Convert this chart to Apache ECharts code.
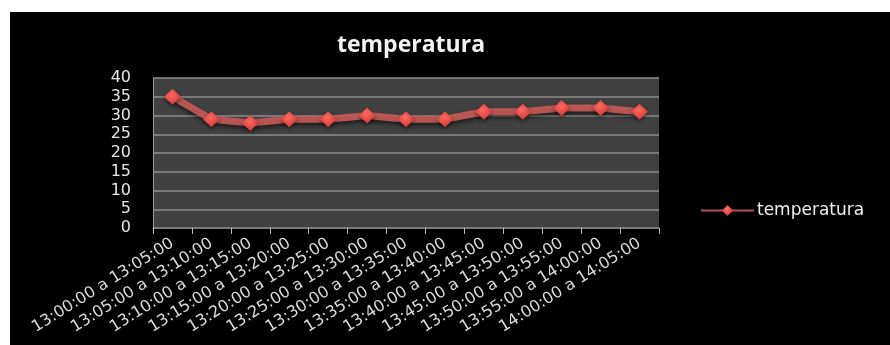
<!DOCTYPE html>
<html>
<head>
<meta charset="utf-8">
<script src="https://cdn.jsdelivr.net/npm/echarts@6/dist/echarts.min.js"></script>
<style>
html,body{margin:0;padding:0;background:#ffffff;}
#wrap{position:absolute;left:10px;top:12px;width:880px;height:333px;background:#000;}
#chart{width:880px;height:333px;}
</style>
</head>
<body>
<div id="wrap"><div id="chart"></div></div>
<script>
var titleText = 'temperatura';
var seriesName = 'temperatura';
var categories = [
  '13:00:00 a 13:05:00','13:05:00 a 13:10:00','13:10:00 a 13:15:00','13:15:00 a 13:20:00',
  '13:20:00 a 13:25:00','13:25:00 a 13:30:00','13:30:00 a 13:35:00','13:35:00 a 13:40:00',
  '13:40:00 a 13:45:00','13:45:00 a 13:50:00','13:50:00 a 13:55:00','13:55:00 a 14:00:00',
  '14:00:00 a 14:05:00'
];
var temperatura = [35, 29, 28, 29, 29, 30, 29, 29, 31, 31, 32, 32, 31];
var yMin = 0, yMax = 40, yStep = 5;

var chart = echarts.init(document.getElementById('chart'), null, {renderer:'canvas'});
chart.setOption({
  backgroundColor: '#000000',
  animation: false,
  title: {
    text: titleText,
    left: 396, top: 17, textAlign: 'center',
    textStyle: {color:'#f2f2f2', fontSize: 23, fontWeight:'bold', fontFamily:'Open Sans, DejaVu Sans, sans-serif'}
  },
  legend: {
    data: [seriesName],
    left: 685, top: 185,
    itemWidth: 53, itemHeight: 14,
    textStyle: {color:'#eeeeee', fontSize: 17, fontFamily:'DejaVu Sans, sans-serif', padding:[0,0,0,-2]}
  },
  grid: {
    left: 143, top: 66, right: 231, bottom: 117,
    show: true, backgroundColor: '#414141', borderWidth: 0
  },
  xAxis: {
    type: 'category',
    data: categories,
    boundaryGap: true,
    axisLine: {show:true, lineStyle:{color:'#7a7a7a', width:1}},
    axisTick: {show:true, length:6, lineStyle:{color:'#bdbdbd'}},
    axisLabel: {
      rotate: 32, interval: 0, color:'#dcdcdc', fontSize: 16, margin: 14,
      fontFamily:'DejaVu Sans, sans-serif'
    },
    splitLine: {show:false}
  },
  yAxis: {
    type: 'value', min: yMin, max: yMax, interval: yStep,
    axisLine: {show:true, lineStyle:{color:'#9a9a9a', width:1}},
    axisTick: {show:false},
    axisLabel: {color:'#e6e6e6', fontSize: 16, margin: 22, fontFamily:'DejaVu Sans, sans-serif'},
    splitLine: {show:true, lineStyle:{color:'#8c8c8c', width:1.5}}
  },
  series: [{
    name: seriesName,
    type: 'line',
    data: temperatura,
    symbol: 'diamond',
    symbolSize: [17, 16],
    lineStyle: {color:'#c85a58', width: 7, opacity: 0.9, shadowColor:'rgba(0,0,0,0.6)', shadowBlur:4, shadowOffsetY:3},
    itemStyle: {
      color: new echarts.graphic.RadialGradient(0.45, 0.4, 0.7, [
        {offset:0, color:'#ff6a63'}, {offset:1, color:'#c8302c'}
      ]),
      borderWidth: 0,
      shadowColor:'rgba(0,0,0,0.5)', shadowBlur:4, shadowOffsetY:2
    }
  }]
});
</script>
</body>
</html>
